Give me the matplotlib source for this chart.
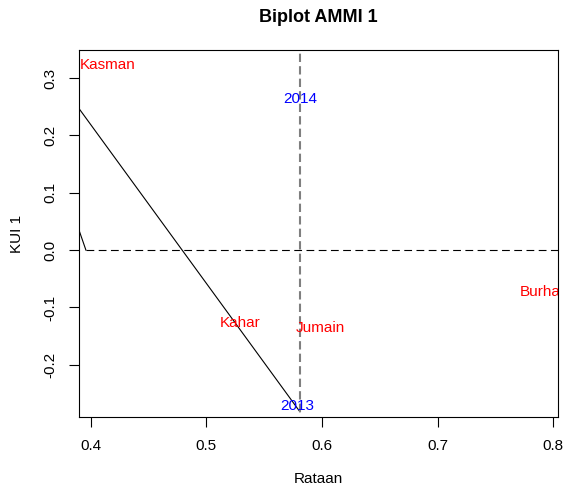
import matplotlib
matplotlib.use("Agg")
import matplotlib.pyplot as plt

plt.rcParams['font.family'] = ['Liberation Sans', 'DejaVu Sans']

# genotype scores (red)
gen_names = ["Kasman", "Kahar", "Jumain", "Burhan"]
gen_mean = [0.415, 0.529, 0.599, 0.792]
gen_kui = [0.323, -0.127, -0.136, -0.073]

# environment scores (blue)
env_names = ["2014", "2013"]
env_mean = [0.581, 0.579]
env_kui = [0.263, -0.272]

# grand mean and reference lines
grand_mean = 0.581
long_seg_x = [0.39, 0.581]
long_seg_y = [0.247, -0.282]
short_seg_x = [0.39, 0.396]
short_seg_y = [0.035, 0.0]

xlim = (0.39, 0.804)
ylim = (-0.291, 0.349)
xticks = [0.4, 0.5, 0.6, 0.7, 0.8]
yticks = [-0.2, -0.1, 0.0, 0.1, 0.2, 0.3]

fig = plt.figure(figsize=(5.65, 4.88), dpi=100)
ax = fig.add_axes([0.1398, 0.1455, 0.8478, 0.752])

ax.plot(long_seg_x, long_seg_y, color='black', lw=0.8)
ax.plot(short_seg_x, short_seg_y, color='black', lw=0.8)
ax.plot([short_seg_x[1], xlim[1]], [0, 0], color='black', lw=0.8,
        linestyle=(0, (7, 4)))
ax.plot([grand_mean, grand_mean], [env_kui[1] - 0.01, ylim[1]],
        color='#7f7f7f', lw=1.5, linestyle=(0, (4, 2)))

for name, x, y in zip(gen_names, gen_mean, gen_kui):
    ax.text(x, y, name, color='red', fontsize=11, ha='center', va='center',
            clip_on=True)
for name, x, y in zip(env_names, env_mean, env_kui):
    ax.text(x, y, name, color='blue', fontsize=11, ha='center', va='center',
            clip_on=True)

ax.set_xlim(xlim)
ax.set_ylim(ylim)
ax.set_xticks(xticks)
ax.set_xticklabels([f"{t:.1f}" for t in xticks])
ax.set_yticks(yticks)
ax.set_yticklabels([f"{t:.1f}" for t in yticks], rotation=90, va='center')
ax.tick_params(length=7.5, width=0.8, labelsize=11, pad=8)
for s in ax.spines.values():
    s.set_linewidth(0.8)

ax.set_xlabel("Rataan", fontsize=11, labelpad=14)
ax.set_ylabel("KUI 1", fontsize=11, labelpad=14)
ax.set_title("Biplot AMMI 1", fontsize=13, fontweight='bold', pad=20)

fig.savefig("out.png", dpi=100)
